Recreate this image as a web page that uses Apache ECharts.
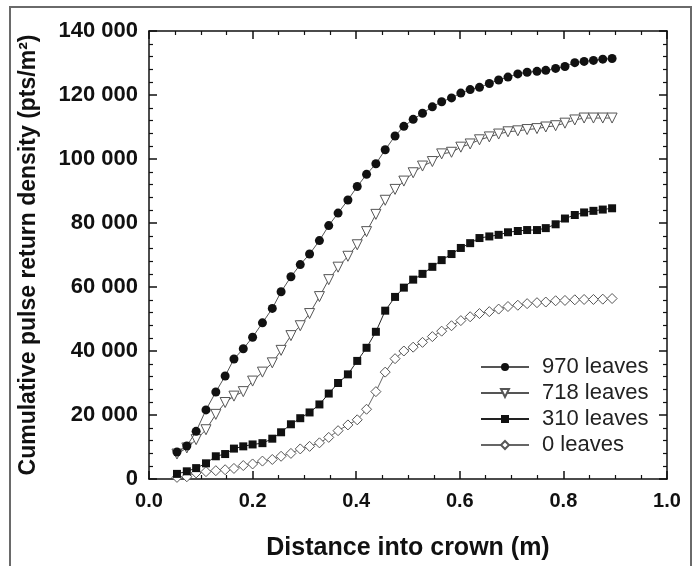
<!DOCTYPE html>
<html>
<head>
<meta charset="utf-8">
<script src="https://cdn.jsdelivr.net/npm/echarts@6/dist/echarts.min.js"></script>
<style>
html,body{margin:0;padding:0;background:#fff;}
#chart{width:699px;height:566px;}
</style>
</head>
<body>
<div id="chart"></div>
<script>
// Distance into crown (m)
var distance = [0.054,0.073,0.091,0.110,0.129,0.147,0.164,0.182,0.200,0.219,0.238,0.255,0.274,0.292,0.310,0.329,0.347,0.365,0.384,0.402,0.420,0.438,0.456,0.475,0.492,0.510,0.528,0.547,0.565,0.584,0.602,0.620,0.638,0.657,0.675,0.693,0.712,0.730,0.749,0.766,0.785,0.803,0.822,0.840,0.858,0.876,0.894];

var leaves970 = [8400,10300,14900,21600,27200,32200,37500,40700,44300,48800,53300,58500,63200,67000,70300,74500,79200,83100,87200,91400,95200,98500,102900,107200,110200,112400,114300,116300,117900,119100,120600,121700,122400,123600,124700,125600,126600,127100,127400,127700,128300,128900,130100,130500,130800,131200,131400];

var leaves718 = [7800,9700,12300,15400,20200,23900,25900,27300,30600,33400,36300,40200,44800,47900,51700,57000,62300,66200,69600,73200,77300,82700,87100,90500,93100,95700,97800,99200,101600,102100,103700,104700,106000,106900,107800,108500,108800,109200,109500,110000,110400,111200,112200,112800,112800,112800,112800];

var leaves310 = [1600,2400,3400,4900,7100,7800,9500,10200,10800,11200,12600,14600,17100,19000,20800,23300,26700,30000,32700,36900,41000,46000,52600,56900,59800,62300,64100,66300,68400,70300,72200,73700,75300,75800,76300,77100,77500,77800,77800,78400,79600,81400,82500,83300,83800,84200,84600];

var leaves0 = [500,700,1900,2300,2600,2900,3300,4200,4700,5600,6100,7100,8000,9400,10200,11300,13000,15100,16900,18500,21800,27300,33400,37600,40000,41200,42700,44500,46200,47900,49500,50700,51700,52300,53100,53900,54300,54800,55100,55300,55700,55800,56000,56100,56100,56200,56400];

var seriesNames = ['970 leaves','718 leaves','310 leaves','0 leaves'];
var xTicks = [0, 0.2, 0.4, 0.6, 0.8, 1.0];
var yTicks = [0, 20000, 40000, 60000, 80000, 100000, 120000, 140000];

function pairs(ys){ return ys.map(function(v,i){ return [distance[i], v]; }); }
function fmtY(v){
  var s = String(Math.round(v));
  if (s.length > 3) s = s.slice(0, s.length-3) + ' ' + s.slice(s.length-3);
  return s;
}

var font = 'Liberation Sans, Arial, sans-serif';
var chart = echarts.init(document.getElementById('chart'), null, {renderer:'canvas'});

var axisCommon = {
  axisLine:{show:true, onZero:false, lineStyle:{color:'#111', width:1.5}},
  axisTick:{show:true, inside:true, length:8, lineStyle:{color:'#111', width:1.5}},
  splitLine:{show:false},
  minorSplitLine:{show:false}
};

var option = {
  animation:false,
  backgroundColor:'#fff',
  graphic:[{
    type:'rect', shape:{x:10, y:7, width:681, height:580},
    style:{fill:'none', stroke:'#6a6a6a', lineWidth:2}, silent:true, z:-1
  }],
  grid:{left:149, right:32, top:31, bottom:83},
  legend:{
    orient:'vertical', left:480, top:356, padding:0,
    itemWidth:48, itemHeight:10, itemGap:4,
    data:seriesNames,
    textStyle:{fontFamily:font, fontSize:22, color:'#222', lineHeight:22, padding:[0,0,0,8]}
  },
  xAxis:[
    Object.assign({}, axisCommon, {
      type:'value', min:0, max:1.0, interval:0.2, position:'bottom',
      minorTick:{show:true, splitNumber:4, length:4, lineStyle:{color:'#111', width:1.2}},
      axisLabel:{show:true, margin:12, fontFamily:font, fontSize:20, fontWeight:'bold', color:'#111',
        formatter:function(v){ return v.toFixed(1); }},
      name:'Distance into crown (m)', nameLocation:'middle', nameGap:57,
      nameTextStyle:{fontFamily:font, fontSize:25, fontWeight:'bold', color:'#111'}
    }),
    Object.assign({}, axisCommon, {
      type:'value', min:0, max:1.0, interval:0.2, position:'top',
      minorTick:{show:true, splitNumber:4, length:4, lineStyle:{color:'#111', width:1.2}},
      axisLabel:{show:false}
    })
  ],
  yAxis:[
    Object.assign({}, axisCommon, {
      type:'value', min:0, max:140000, interval:20000, position:'left',
      minorTick:{show:true, splitNumber:5, length:4, lineStyle:{color:'#111', width:1.2}},
      axisLabel:{show:true, margin:11, fontFamily:font, fontSize:22, fontWeight:'bold', color:'#111', formatter:fmtY},
      name:'Cumulative pulse return density (pts/m\u00B2)', nameLocation:'middle', nameGap:109, nameRotate:90,
      nameTextStyle:{fontFamily:font, fontSize:23, fontWeight:'bold', color:'#111'}
    }),
    Object.assign({}, axisCommon, {
      type:'value', min:0, max:140000, interval:20000, position:'right',
      minorTick:{show:true, splitNumber:5, length:4, lineStyle:{color:'#111', width:1.2}},
      axisLabel:{show:false}
    })
  ],
  series:[
    {name:seriesNames[0], type:'line', data:pairs(leaves970), symbol:'circle', symbolSize:9,
      lineStyle:{color:'#555', width:1}, itemStyle:{color:'#111', borderColor:'#111', borderWidth:0}, z:5},
    {name:seriesNames[1], type:'line', data:pairs(leaves718), symbol:'triangle', symbolRotate:180, symbolSize:10,
      lineStyle:{color:'#555', width:1}, itemStyle:{color:'#fff', borderColor:'#555', borderWidth:1}, z:4},
    {name:seriesNames[2], type:'line', data:pairs(leaves310), symbol:'rect', symbolSize:8,
      lineStyle:{color:'#222', width:1}, itemStyle:{color:'#111', borderColor:'#111', borderWidth:0}, z:3},
    {name:seriesNames[3], type:'line', data:pairs(leaves0), symbol:'diamond', symbolSize:10,
      lineStyle:{color:'#666', width:1}, itemStyle:{color:'#fff', borderColor:'#555', borderWidth:1}, z:2}
  ]
};
chart.setOption(option);
</script>
</body>
</html>
